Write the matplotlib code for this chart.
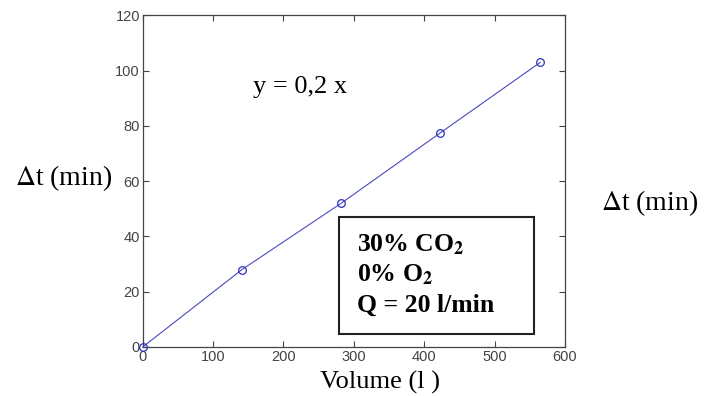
import numpy as np
import matplotlib
matplotlib.use("Agg")
import matplotlib.pyplot as plt
from matplotlib.patches import Rectangle

# data
volume = [0, 141, 282, 423, 565]
delta_t = [0, 28, 52, 77.5, 103]
x_ticks = [0, 100, 200, 300, 400, 500, 600]
y_ticks = [0, 20, 40, 60, 80, 100, 120]

fig = plt.figure(figsize=(7.16, 3.96), dpi=100)
ax = fig.add_axes([142.7 / 716, 1 - 347 / 396, (565 - 142.7) / 716, (347 - 15.3) / 396])

ax.plot(volume, delta_t, color='#4a4ac0', lw=0.8, marker='o', ms=5.5,
        mfc='none', mec='#3030c0', mew=0.9, clip_on=False, zorder=3)

ax.set_xlim(0, 600)
ax.set_ylim(0, 120)
ax.set_xticks(x_ticks)
ax.set_yticks(y_ticks)
ax.tick_params(direction='in', length=4, width=0.8, colors='#444444',
               labelsize=10.5, top=True, right=True, pad=2)
for lab in ax.get_xticklabels() + ax.get_yticklabels():
    lab.set_family('Liberation Sans')
for s in ax.spines.values():
    s.set_color('#444444')
    s.set_linewidth(0.9)

serif = 'Liberation Serif'
fig.text(300 / 716, 1 - 87 / 396, 'y = 0,2 x', family=serif, fontsize=19,
         ha='center', va='center')

fig.text(380 / 716, 1 - 382 / 396, 'Volume (l )', family=serif, fontsize=19,
         ha='center', va='center')
fig.text(64 / 716, 1 - 178 / 396, r'$\Delta$t (min)', family=serif, fontsize=20,
         ha='center', va='center', math_fontfamily='stix')
fig.text(650 / 716, 1 - 203 / 396, r'$\Delta$t (min)', family=serif, fontsize=20,
         ha='center', va='center', math_fontfamily='stix')

# annotation box
fig.patches.append(Rectangle((339 / 716, 1 - 334 / 396), (534 - 339) / 716, (334 - 217) / 396,
                             transform=fig.transFigure, fill=True, fc='white',
                             ec='#222222', lw=1.5, zorder=5))
box_lines = [r'30% CO$_\mathbf{2}$', r'0% O$_\mathbf{2}$', 'Q = 20 l/min']
for i, t in enumerate(box_lines):
    fig.text(357 / 716, 1 - (245 + i * 30) / 396, t, family=serif, fontsize=18.5,
             weight='bold', va='center', ha='left', zorder=6,
             math_fontfamily='stix')

fig.savefig('out.png', dpi=100)
